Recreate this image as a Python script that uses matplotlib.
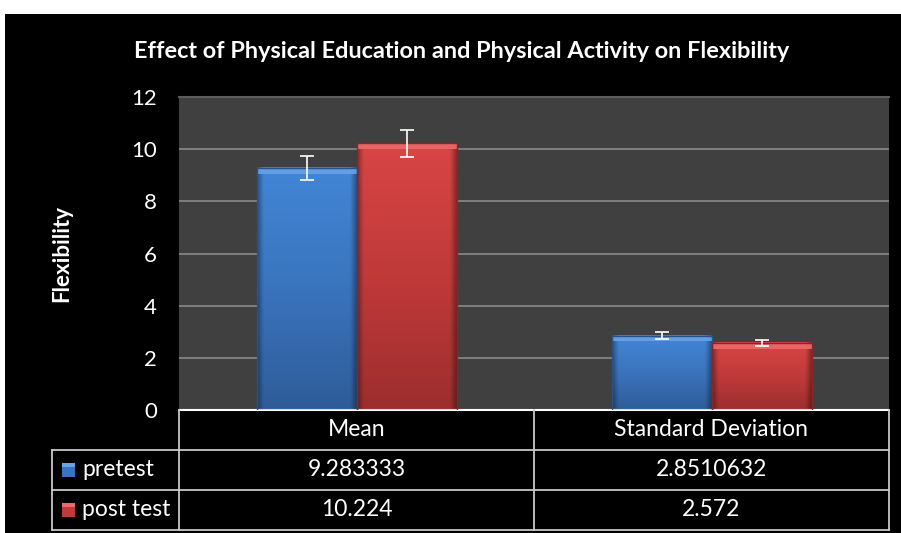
import numpy as np
import matplotlib
matplotlib.use("Agg")
import matplotlib.pyplot as plt
from matplotlib.patches import Rectangle
from matplotlib.colors import LinearSegmentedColormap

categories = ["Mean", "Standard Deviation"]
series_names = ["pretest", "post test"]
pretest = [9.283333, 2.8510632]
posttest = [10.224, 2.572]
pretest_err = [0.46, 0.14]
posttest_err = [0.51, 0.13]
pretest_labels = ["9.283333", "2.8510632"]
posttest_labels = ["10.224", "2.572"]
yticks = [0, 2, 4, 6, 8, 10, 12]
title = "Effect of Physical Education and Physical Activity on Flexibility"
ylabel = "Flexibility"

FONT = ["Lato", "DejaVu Sans"]
plt.rcParams["font.family"] = FONT

W, H = 901, 533
fig = plt.figure(figsize=(W / 100, H / 100), dpi=100, facecolor="white")

def fx(px):
    return px / W

def fy(py):
    return 1 - py / H

# black background panel
bg = fig.add_axes([fx(5), 0, 1 - fx(5), fy(14)], zorder=-10)
bg.set_facecolor("black")
bg.axis("off")
bg.add_patch(Rectangle((0, 0), 1, 1, transform=bg.transAxes, facecolor="black",
                       edgecolor="none"))

# plot area
L, R, T, B = 179, 889, 97, 410
ax = fig.add_axes([fx(L), fy(B), fx(R - L), fy(T) - fy(B)], zorder=1)
ax.set_facecolor("#404040")
ax.set_yticks(yticks)
ax.set_yticklabels([str(v) for v in yticks], color="white", fontsize=16)
ax.tick_params(axis="y", length=0, pad=16)
ax.tick_params(axis="x", length=0, labelbottom=False)
ax.set_xticks([])
for s in ["left", "right"]:
    ax.spines[s].set_visible(False)
ax.spines["top"].set_color("#5c5c5c")
ax.spines["top"].set_linewidth(1.5)
ax.spines["bottom"].set_color("white")
ax.spines["bottom"].set_linewidth(1.5)
ax.yaxis.grid(True, color="#8a8a8a", linewidth=1.2)
ax.set_axisbelow(True)

x = np.arange(len(categories))
bw = 100 / 355.0

blue_grad = LinearSegmentedColormap.from_list("b", ["#2f5c98", "#3a74bd", "#4286d6"])
red_grad = LinearSegmentedColormap.from_list("r", ["#9c2e2e", "#c03a3a", "#d84545"])

def shade_bars(bars, cmap, light, dark):
    for p in bars:
        bx, by, w, h = p.get_x(), p.get_y(), p.get_width(), p.get_height()
        ny, nx = 200, 60
        yy = np.linspace(0, 1, ny)[:, None]
        xx = np.linspace(0, 1, nx)[None, :]
        base = np.repeat(yy, nx, axis=1)
        img = cmap(base)
        edge = np.clip(1 - np.minimum(xx, 1 - xx) / 0.06, 0, 1)
        img[..., :3] = img[..., :3] * (1 - 0.35 * edge)[..., None]
        ax.imshow(img, extent=(bx, bx + w, by, by + h), origin="lower",
                  aspect="auto", zorder=2, clip_path=p, clip_on=True,
                  interpolation="bilinear")
        sh = 0.22
        ax.add_patch(Rectangle((bx, by + h - sh), w, sh, facecolor=light,
                               edgecolor="none", zorder=3, alpha=0.9))
        p.set_edgecolor(dark)
        p.set_linewidth(1.0)

b1 = ax.bar(x - bw / 2, pretest, bw, color="none", zorder=4)
b2 = ax.bar(x + bw / 2, posttest, bw, color="none", zorder=4)
shade_bars(b1, blue_grad, "#66a3e8", "#2a5288")
shade_bars(b2, red_grad, "#ec6a6a", "#8a2626")
ax.set_xlim(-0.5, 1.5)
ax.set_ylim(0, 12)

ax.errorbar(x - bw / 2, pretest, yerr=pretest_err, fmt="none", ecolor="white",
            elinewidth=1.2, capsize=5, capthick=1.2, zorder=6)
ax.errorbar(x + bw / 2, posttest, yerr=posttest_err, fmt="none", ecolor="white",
            elinewidth=1.2, capsize=5, capthick=1.2, zorder=6)

fig.text(fx(462), fy(52), title, color="white", fontsize=16.9, fontweight="bold",
         ha="center", va="center", zorder=5)
fig.text(fx(62), fy(253), ylabel, color="white", fontsize=16, fontweight="bold",
         ha="center", va="center", rotation=90, zorder=5)

tax = fig.add_axes([0, 0, 1, 1], facecolor="none", zorder=2)
tax.set_xlim(0, W)
tax.set_ylim(H, 0)
tax.axis("off")
lc = "#c8c8c8"
cols = [52, 179, 534, 889]
rows = [410, 450, 490, 530]
lw = 1.3
tax.plot([cols[0], cols[3]], [rows[1], rows[1]], color=lc, lw=lw)
tax.plot([cols[0], cols[3]], [rows[2], rows[2]], color=lc, lw=lw)
tax.plot([cols[0], cols[3]], [rows[3], rows[3]], color=lc, lw=lw)
tax.plot([cols[0], cols[0]], [rows[1], rows[3]], color=lc, lw=lw)
for c in cols[1:]:
    tax.plot([c, c], [rows[0], rows[3]], color=lc, lw=lw)

fs = 16.5
for i, cat in enumerate(categories):
    cx = (cols[i + 1] + cols[i + 2]) / 2
    tax.text(cx, (rows[0] + rows[1]) / 2, cat, color="white", fontsize=fs,
             ha="center", va="center")
    tax.text(cx, (rows[1] + rows[2]) / 2, pretest_labels[i], color="white",
             fontsize=fs, ha="center", va="center")
    tax.text(cx, (rows[2] + rows[3]) / 2, posttest_labels[i], color="white",
             fontsize=fs, ha="center", va="center")

for j, (name, col, light) in enumerate(zip(series_names, ["#3a74bd", "#c03a3a"],
                                         ["#66a3e8", "#ec6a6a"])):
    cy = (rows[j + 1] + rows[j + 2]) / 2
    tax.add_patch(Rectangle((62, cy - 7), 13, 14, facecolor=col, edgecolor="none"))
    tax.add_patch(Rectangle((62, cy - 7), 13, 4, facecolor=light, edgecolor="none"))
    tax.text(82, cy, name, color="white", fontsize=fs, ha="left", va="center")

fig.savefig("out.png", dpi=100, facecolor="white")
